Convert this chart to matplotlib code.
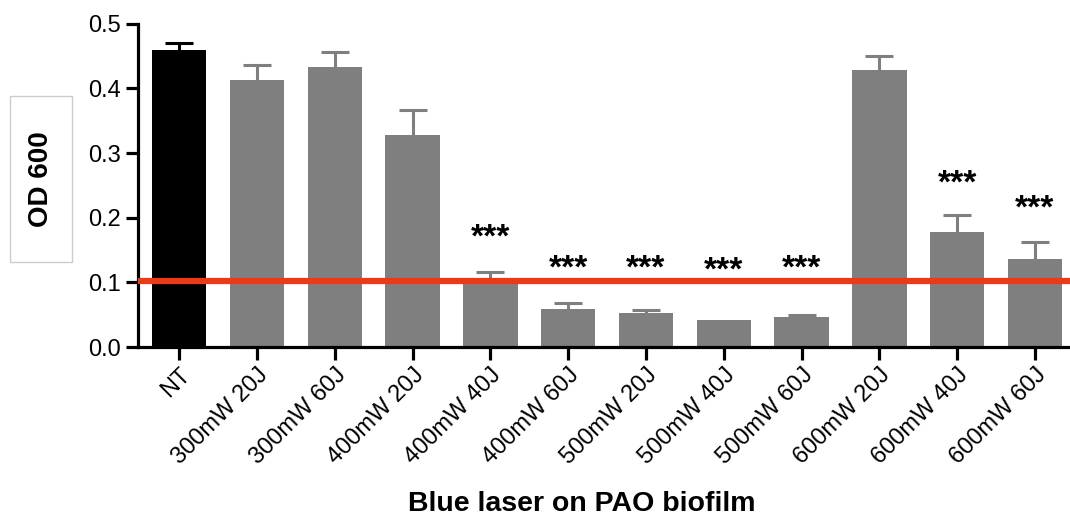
import numpy as np
import matplotlib.pyplot as plt
from matplotlib.patches import Rectangle

plt.rcParams['font.family'] = ['Liberation Sans', 'DejaVu Sans']

# bar data
groups = ['NT', '300mW 20J', '300mW 60J', '400mW 20J', '400mW 40J', '400mW 60J',
          '500mW 20J', '500mW 40J', '500mW 60J', '600mW 20J', '600mW 40J', '600mW 60J']
od600 = [0.460, 0.413, 0.433, 0.328, 0.100, 0.059, 0.052, 0.042, 0.047, 0.429, 0.178, 0.136]
sem = [0.011, 0.024, 0.024, 0.039, 0.016, 0.009, 0.005, 0.0, 0.003, 0.021, 0.027, 0.027]
stars = ['', '', '', '', '***', '***', '***', '***', '***', '', '***', '***']
star_y = [0, 0, 0, 0, 0.168, 0.120, 0.120, 0.118, 0.120, 0, 0.252, 0.213]
threshold = 0.102

colors = ['black'] + ['#7f7f7f'] * (len(groups) - 1)
x = np.arange(len(groups))

fig = plt.figure(figsize=(10.7, 5.18), dpi=100)
ax = fig.add_axes([0.129, 0.330, 0.871, 0.624])

ax.bar(x, od600, width=0.7, color=colors, zorder=2)
# upper-only error bars (stem + cap), coloured like their bar
cap = 0.18
for xi, v, e, c in zip(x, od600, sem, colors):
    if e > 0:
        ax.vlines(xi, v, v + e, color=c, linewidth=2.2, zorder=1)
        ax.hlines(v + e, xi - cap, xi + cap, color=c, linewidth=2.2, zorder=1)
ax.axhline(threshold, color='#ea3a18', linewidth=4.5, zorder=3)

for xi, s, sy in zip(x, stars, star_y):
    if s:
        ax.text(xi, sy, s, ha='center', va='center', fontsize=24, fontweight='bold')

ax.set_xlim(-0.53, 11.45)
ax.set_ylim(0, 0.5)
ax.set_yticks([0.0, 0.1, 0.2, 0.3, 0.4, 0.5])
ax.set_yticklabels(['0.0', '0.1', '0.2', '0.3', '0.4', '0.5'], fontsize=17)
ax.set_xticks(x)
ax.set_xticklabels(groups, rotation=45, ha='right', rotation_mode='anchor', fontsize=17)

for side in ['top', 'right']:
    ax.spines[side].set_visible(False)
for side in ['left', 'bottom']:
    ax.spines[side].set_linewidth(2.3)
ax.tick_params(axis='both', width=2.3, length=9, direction='out', pad=3)

ax.set_xlabel('Blue laser on PAO biofilm', fontsize=20.5, fontweight='bold')
ax.xaxis.set_label_coords(0.476, -0.487)
ax.xaxis.label.set_va('center')

# boxed y label
fig.patches.append(Rectangle((10 / 1070, 1 - 262 / 518), 62 / 1070, 166 / 518,
                             transform=fig.transFigure, facecolor='white',
                             edgecolor='#cccccc', linewidth=1))
fig.text(41 / 1070, 1 - 179 / 518, 'OD 600', rotation=90, ha='center', va='center',
         fontsize=20, fontweight='bold')

fig.savefig('out.png', dpi=100)
